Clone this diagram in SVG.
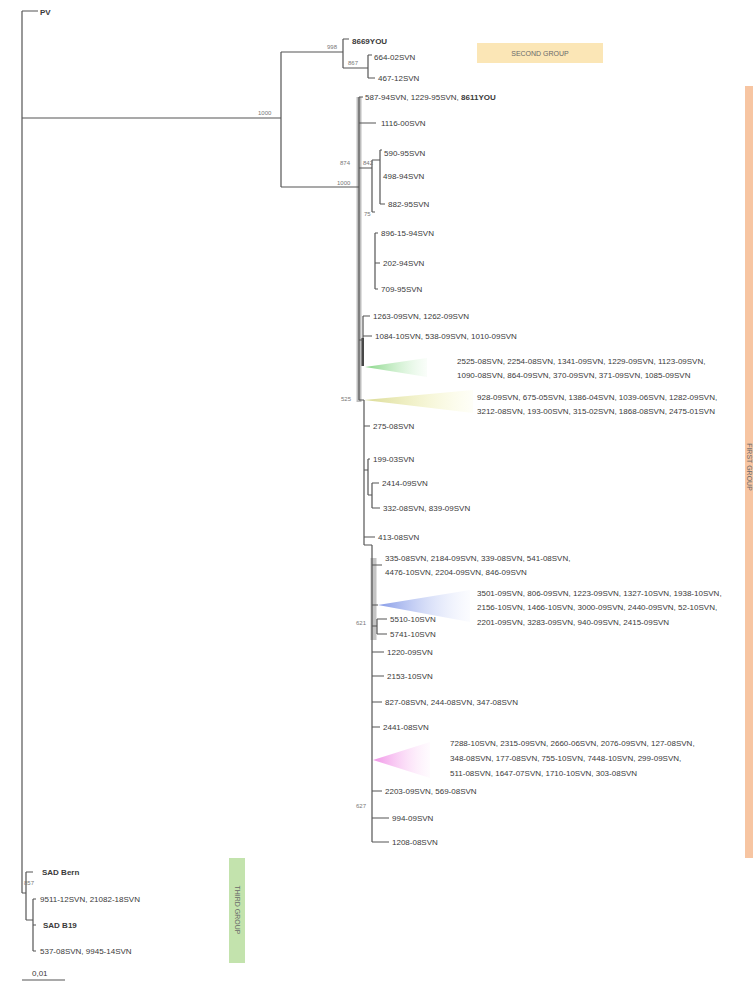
<svg xmlns="http://www.w3.org/2000/svg" width="753" height="981" viewBox="0 0 753 981">
<defs>
<style>
.t{font-family:"Liberation Sans",Arial,sans-serif;font-size:8px;fill:#3a3a3a}
.b{font-weight:bold}
.bs{font-family:"Liberation Sans",Arial,sans-serif;font-size:6px;fill:#777}
.g{font-family:"Liberation Sans",Arial,sans-serif;font-size:7px;fill:#6a6a6a}
.ln{fill:none;stroke:#555;stroke-width:1.2}
</style>
<linearGradient id="gG" x1="0" y1="0" x2="1" y2="0"><stop offset="0" stop-color="#7fd37f" stop-opacity="0.95"/><stop offset="1" stop-color="#c8f0c8" stop-opacity="0.1"/></linearGradient>
<linearGradient id="gY" x1="0" y1="0" x2="1" y2="0"><stop offset="0" stop-color="#d8d890" stop-opacity="0.95"/><stop offset="1" stop-color="#f8f8b8" stop-opacity="0.1"/></linearGradient>
<linearGradient id="gB" x1="0" y1="0" x2="1" y2="0"><stop offset="0" stop-color="#7f95e6" stop-opacity="0.95"/><stop offset="1" stop-color="#d8e0fa" stop-opacity="0.1"/></linearGradient>
<linearGradient id="gP" x1="0" y1="0" x2="1" y2="0"><stop offset="0" stop-color="#f08ee6" stop-opacity="0.95"/><stop offset="1" stop-color="#fbd8f6" stop-opacity="0.1"/></linearGradient>
</defs>
<rect width="753" height="981" fill="#ffffff"/>

<g id="group-boxes">
<rect x="477" y="43" width="126" height="20" fill="#fbe6b6"/>
<text class="g" x="540" y="56" text-anchor="middle">SECOND GROUP</text>
<rect x="745" y="86" width="8" height="772" fill="#f7c5a2"/>
<text class="g" transform="translate(747,467) rotate(90)" text-anchor="middle">FIRST GROUP</text>
<rect x="229" y="858" width="16" height="105" fill="#c3e3ad"/>
<text class="g" transform="translate(235,910) rotate(90)" text-anchor="middle">THIRD GROUP</text>
</g>

<g id="bands">
<rect x="356.5" y="97" width="5" height="305" fill="#bdbdbd"/>
<rect x="370.5" y="558" width="6" height="82" fill="#c4c4c4"/>
<rect x="361.5" y="338" width="2.5" height="28" fill="#333"/>
</g>

<g id="collapsed-clades">
<polygon points="365,367 427,358 427,377" fill="url(#gG)"/>
<polygon points="364,400 473,390 473,413" fill="url(#gY)"/>
<polygon points="378,605 470,590 470,622" fill="url(#gB)"/>
<polygon points="373,760 430,742 430,778" fill="url(#gP)"/>
</g>

<g id="connectors">
<path class="ln" d="M22,11 H38 M22,11 V893 M22,118 H281 M281,52 V187 M281,52 H343 M343,39 V68 M343,39 H349 M343,68 H368 M368,55 V78 M368,55 H372 M368,78 H375"/>
<path class="ln" d="M281,187 H359 M359,97 V400 M359,97 H363 M359,123 H376 M359,168 H372 M372,160 V212 M372,160 H380 M380,150 V204 M380,150 H382 M380,204 H385 M372,212 H375 M375,233 V289 M375,233 H378 M375,263 H380 M375,289 H378"/>
<path class="ln" d="M359,340 H363 M363,316 V366 M363,316 H370 M363,336 H372 M359,400 H364 M364,400 V545 M364,426 H370 M364,470 H368 M368,459 V495 M368,459 H370 M368,495 H372 M372,483 V508 M372,483 H379 M372,508 H380 M364,537 H375 M364,545 H372"/>
<path class="ln" d="M372,545 V842 M372,565 H382 M372,605 H378 M372,626 H377 M377,619 V634 M377,619 H387 M377,634 H387 M372,652 H384 M372,676 H384 M372,702 H382 M372,727 H380 M372,791 H382 M372,818 H389 M372,842 H389"/>
<path class="ln" d="M22,893 H26 M26,872 V920 M26,872 H33 M26,920 H33 M33,899 V951 M33,899 H36 M33,925 H36 M33,951 H36"/>
<path class="ln" d="M22,980 H65"/>
</g>

<g id="bootstrap">
<text class="bs" x="327" y="49">998</text>
<text class="bs" x="348" y="65">867</text>
<text class="bs" x="258" y="115">1000</text>
<text class="bs" x="340" y="165">874</text>
<text class="bs" x="363" y="165">842</text>
<text class="bs" x="337" y="185">1000</text>
<text class="bs" x="364" y="216">75</text>
<text class="bs" x="341" y="401">525</text>
<text class="bs" x="356" y="625">621</text>
<text class="bs" x="356" y="808">627</text>
<text class="bs" x="24" y="885">857</text>
</g>

<g id="leaves">
<text class="t" x="40" y="15"><tspan class="b">PV</tspan></text>
<text class="t b" x="352" y="44">8669YOU</text>
<text class="t" x="374" y="60">664-02SVN</text>
<text class="t" x="378" y="81">467-12SVN</text>
<text class="t" x="365" y="100">587-94SVN, 1229-95SVN, <tspan class="b">8611YOU</tspan></text>
<text class="t" x="381" y="126">1116-00SVN</text>
<text class="t" x="384" y="156">590-95SVN</text>
<text class="t" x="383" y="179">498-94SVN</text>
<text class="t" x="388" y="207">882-95SVN</text>
<text class="t" x="381" y="236">896-15-94SVN</text>
<text class="t" x="383" y="266">202-94SVN</text>
<text class="t" x="381" y="292">709-95SVN</text>
<text class="t" x="373" y="319">1263-09SVN, 1262-09SVN</text>
<text class="t" x="375" y="339">1084-10SVN, 538-09SVN, 1010-09SVN</text>
<text class="t" x="457" y="364">2525-08SVN, 2254-08SVN, 1341-09SVN, 1229-09SVN, 1123-09SVN,</text>
<text class="t" x="457" y="378">1090-08SVN, 864-09SVN, 370-09SVN, 371-09SVN, 1085-09SVN</text>
<text class="t" x="477" y="400">928-09SVN, 675-05SVN, 1386-04SVN, 1039-06SVN, 1282-09SVN,</text>
<text class="t" x="477" y="414">3212-08SVN, 193-00SVN, 315-02SVN, 1868-08SVN, 2475-01SVN</text>
<text class="t" x="373" y="429">275-08SVN</text>
<text class="t" x="373" y="462">199-03SVN</text>
<text class="t" x="382" y="486">2414-09SVN</text>
<text class="t" x="383" y="511">332-08SVN, 839-09SVN</text>
<text class="t" x="378" y="540">413-08SVN</text>
<text class="t" x="385" y="561">335-08SVN, 2184-09SVN, 339-08SVN, 541-08SVN,</text>
<text class="t" x="385" y="575">4476-10SVN, 2204-09SVN, 846-09SVN</text>
<text class="t" x="477" y="596">3501-09SVN, 806-09SVN, 1223-09SVN, 1327-10SVN, 1938-10SVN,</text>
<text class="t" x="477" y="610">2156-10SVN, 1466-10SVN, 3000-09SVN, 2440-09SVN, 52-10SVN,</text>
<text class="t" x="477" y="625">2201-09SVN, 3283-09SVN, 940-09SVN, 2415-09SVN</text>
<text class="t" x="390" y="622">5510-10SVN</text>
<text class="t" x="390" y="637">5741-10SVN</text>
<text class="t" x="387" y="655">1220-09SVN</text>
<text class="t" x="387" y="679">2153-10SVN</text>
<text class="t" x="385" y="705">827-08SVN, 244-08SVN, 347-08SVN</text>
<text class="t" x="383" y="730">2441-08SVN</text>
<text class="t" x="450" y="746">7288-10SVN, 2315-09SVN, 2660-06SVN, 2076-09SVN, 127-08SVN,</text>
<text class="t" x="450" y="761">348-08SVN, 177-08SVN, 755-10SVN, 7448-10SVN, 299-09SVN,</text>
<text class="t" x="450" y="776">511-08SVN, 1647-07SVN, 1710-10SVN, 303-08SVN</text>
<text class="t" x="385" y="794">2203-09SVN, 569-08SVN</text>
<text class="t" x="392" y="821">994-09SVN</text>
<text class="t" x="392" y="845">1208-08SVN</text>
<text class="t b" x="42" y="875">SAD Bern</text>
<text class="t" x="40" y="902">9511-12SVN, 21082-18SVN</text>
<text class="t b" x="43" y="928">SAD B19</text>
<text class="t" x="40" y="954">537-08SVN, 9945-14SVN</text>
<text class="t" x="32" y="976">0,01</text>
</g>
</svg>
